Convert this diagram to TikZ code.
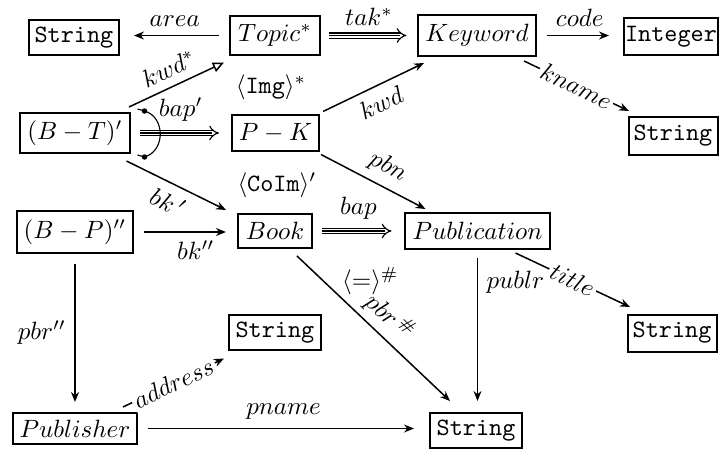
\documentclass[tikz,border=0pt]{standalone}
\usetikzlibrary{arrows.meta,calc}
\begin{document}
\begin{tikzpicture}[x=0.4pt,y=-0.4pt,
  box/.style={draw,line width=0.8pt,inner sep=0pt,anchor=center},
  ar/.style={line width=0.6pt,-{Stealth[length=4pt,width=3.2pt]}},
  ln/.style={line width=0.6pt},
  trip/.style={double,double distance=1.6pt,line width=0.45pt,-{Implies}},
  midl/.style={line width=0.45pt},
  onl/.style={midway,sloped,fill=white,inner sep=1pt},
]
\useasboundingbox (0,0) rectangle (722,453);
% nodes
\node[box,minimum width=36pt,minimum height=14pt] (s1) at (74,37.5) {\texttt{String}};
\node[box,minimum width=35.6pt,minimum height=15.2pt] (topic) at (275,35.5) {$Topic^*$};
\node[box,minimum width=46.8pt,minimum height=16pt] (kw) at (477,35.5) {$Keyword$};
\node[box,minimum width=37.6pt,minimum height=14.8pt] (int) at (671,36.5) {\texttt{Integer}};
\node[box,minimum width=35.6pt,minimum height=15.2pt] (s2) at (673,136) {\texttt{String}};
\node[box,minimum width=43.6pt,minimum height=16pt] (bt) at (75,133) {$(B-T)'$};
\node[box,minimum width=34.8pt,minimum height=14pt] (pk) at (275.5,133) {$P-K$};
\node[box,minimum width=46.4pt,minimum height=16.4pt] (bp) at (75,232) {$(B-P)''$};
\node[box,minimum width=29.6pt,minimum height=13.6pt] (book) at (275,231) {$Book$};
\node[box,minimum width=58pt,minimum height=14pt] (pub) at (477.5,231) {$Publication$};
\node[box,minimum width=35.6pt,minimum height=14.8pt] (s3) at (672,333) {\texttt{String}};
\node[box,minimum width=36.8pt,minimum height=14pt] (s4) at (275,332.5) {\texttt{String}};
\node[box,minimum width=49.6pt,minimum height=12.4pt] (pl) at (75,428.5) {$Publisher$};
\node[box,minimum width=36.8pt,minimum height=14pt] (s5) at (476,430.5) {\texttt{String}};
% free labels
\node (img) at (271,87) {$\langle\mathtt{Img}\rangle^*$};
\node (coim) at (277,185) {$\langle\mathtt{CoIm}\rangle'$};
% top row
\draw[ar,shorten <=4pt,shorten >=5.6pt] (topic.west) -- (s1.east |- topic.west) node[midway,above]{$area$};
\draw[trip,shorten <=3.2pt,shorten >=4.4pt] (topic.east) -- (kw.west) node[midway,above=0.3pt]{$tak^*$};
\draw[midl,shorten <=3.2pt,shorten >=7pt] (topic.east) -- (kw.west);
\draw[ar,shorten <=4pt,shorten >=5.6pt] (kw.east) -- (int.west |- kw.east) node[midway,above]{$code$};
\draw[ar] ([shift={(-12.5,4.5)}]kw.south east) -- ([shift={(1.5,-5)}]s2.north west) node[onl]{$kname$};
% second row
\draw[ar] ([shift={(3,-3)}]pk.north east) -- ([shift={(6.5,6.5)}]kw.south west) node[midway,sloped,below]{$kwd$};
\draw[line width=0.6pt,-{Triangle[open,length=4.5pt,width=4pt]}] ([shift={(-1.5,-5)}]bt.north east) -- ([shift={(-5.5,7)}]topic.south west) node[midway,sloped,above]{$kwd^*$};
\draw[trip,shorten <=3.6pt,shorten >=4.8pt] (bt.east) -- (pk.west) node[midway,above=1pt]{$bap'$};
\draw[midl,shorten <=3.6pt,shorten >=7.4pt] (bt.east) -- (pk.west);
\coordinate (d1) at ([shift={(14,-22)}]bt.east);
\coordinate (d2) at ([shift={(14,24)}]bt.east);
\coordinate (e1) at ([shift={(7,-24)}]bt.east);
\coordinate (e2) at ([shift={(7,22)}]bt.east);
\draw[midl] (e1) -- (d1);
\draw[midl] (e2) -- (d2);
\draw[midl] (d1) .. controls +(21,6) and +(21,-6) .. (d2);
\fill (d1) circle (1.1pt);
\fill (d2) circle (1.1pt);
\draw[ar] ([shift={(-4,7)}]bt.south east) -- ([shift={(-11,-3)}]book.north west) node[midway,sloped,below]{$bk\,'$};
\draw[ar] ([shift={(1,3)}]pk.south east) -- ([shift={(21.5,-3.5)}]pub.north west) node[pos=0.55,sloped,above]{$pbn$};
% third row
\draw[ar,shorten <=4pt,shorten >=4.4pt] (bp.east) -- (book.west |- bp.east) node[pos=0.6,below]{$bk''$};
\draw[trip,shorten <=3.6pt,shorten >=5pt] (book.east) -- (pub.west) node[midway,above=1pt]{$bap$};
\draw[midl,shorten <=3.6pt,shorten >=7.6pt] (book.east) -- (pub.west);
\draw[ar] ([shift={(22,7)}]book.south) -- ([shift={(-26,-11)}]s5.north)
  node[pos=0.17,right=4pt]{$\langle\mathtt{=}\rangle^{\#}$}
  node[pos=0.52,sloped,above=-1pt]{$pbr^{\,\#}$};
\draw[ar,shorten <=3.4pt,shorten >=4.4pt] (pub.south) -- (pub.south |- s5.north) node[pos=0.2,right]{$publr$};
\draw[ar] ([shift={(-35.5,3.5)}]pub.south east) -- ([shift={(3.5,-6.5)}]s3.north west) node[onl]{$title$};
% bottom
\draw[ar,shorten <=4pt,shorten >=4pt] (bp.south) -- (pl.north) node[midway,left]{$pbr''$};
\draw[ar] ([shift={(-15,-5)}]pl.north east) -- ([shift={(-4,7.5)}]s4.south west) node[onl]{$address$};
\draw[ar,shorten <=4pt,shorten >=6pt] (pl.east) -- (s5.west |- pl.east) node[midway,above]{$pname$};
\end{tikzpicture}
\end{document}
